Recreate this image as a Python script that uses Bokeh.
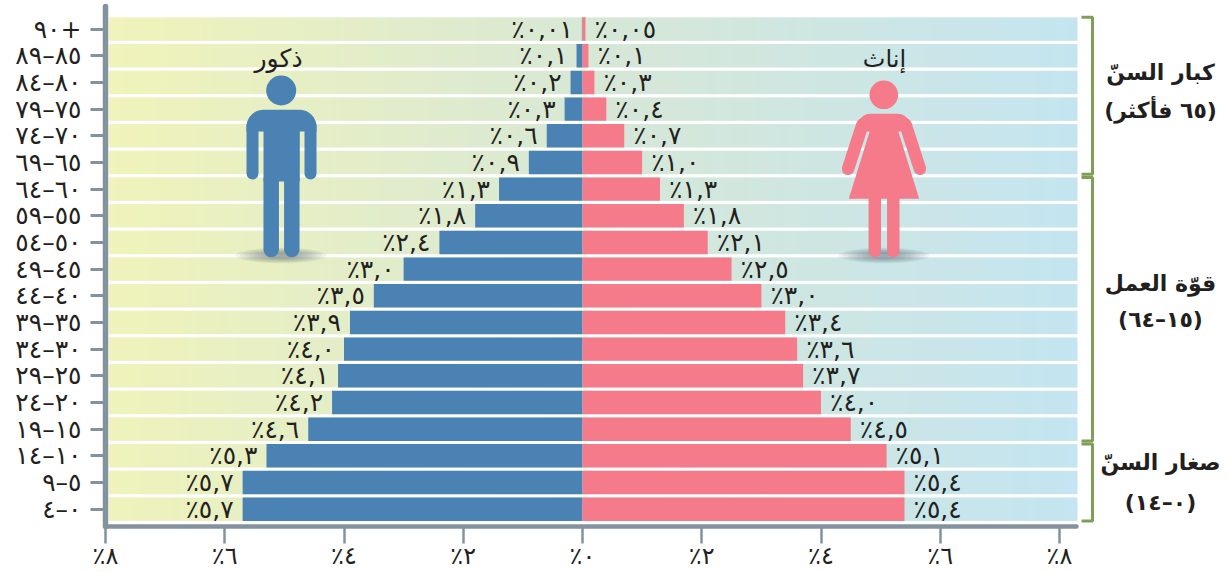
import numpy as np
from bokeh.plotting import figure
from bokeh.models import Range1d, FixedTicker, ColumnDataSource
from bokeh.core.properties import value
from bokeh.embed import file_html
from bokeh.resources import INLINE

age_labels = ["٩٠+", "٨٥–٨٩", "٨٠–٨٤", "٧٥–٧٩", "٧٠–٧٤", "٦٥–٦٩", "٦٠–٦٤", "٥٥–٥٩", "٥٠–٥٤", "٤٥–٤٩",
              "٤٠–٤٤", "٣٥–٣٩", "٣٠–٣٤", "٢٥–٢٩", "٢٠–٢٤", "١٥–١٩", "١٠–١٤", "٥–٩", "٠–٤"]
male = [0.01, 0.1, 0.2, 0.3, 0.6, 0.9, 1.4, 1.8, 2.4, 3.0, 3.5, 3.9, 4.0, 4.1, 4.2, 4.6, 5.3, 5.7, 5.7]
female = [0.05, 0.1, 0.2, 0.4, 0.7, 1.0, 1.3, 1.7, 2.1, 2.5, 3.0, 3.4, 3.6, 3.7, 4.0, 4.5, 5.1, 5.4, 5.4]
male_labels = ["٪٠,٠١", "٪٠,١", "٪٠,٢", "٪٠,٣", "٪٠,٦", "٪٠,٩", "٪١,٣", "٪١,٨", "٪٢,٤", "٪٣,٠",
               "٪٣,٥", "٪٣,٩", "٪٤,٠", "٪٤,١", "٪٤,٢", "٪٤,٦", "٪٥,٣", "٪٥,٧", "٪٥,٧"]
female_labels = ["٪٠,٠٥", "٪٠,١", "٪٠,٣", "٪٠,٤", "٪٠,٧", "٪١,٠", "٪١,٣", "٪١,٨", "٪٢,١", "٪٢,٥",
                 "٪٣,٠", "٪٣,٤", "٪٣,٦", "٪٣,٧", "٪٤,٠", "٪٤,٥", "٪٥,١", "٪٥,٤", "٪٥,٤"]
x_ticks = [-8, -6, -4, -2, 0, 2, 4, 6, 8]
x_tick_labels = ["٪٨", "٪٦", "٪٤", "٪٢", "٪٠", "٪٢", "٪٤", "٪٦", "٪٨"]
groups = [("كبار السنّ", "(٦٥ فأكثر)", 0, 5), ("قوّة العمل", "(١٥–٦٤)", 6, 15), ("صغار السنّ", "(٠–١٤)", 16, 18)]
group_text_y = [(72, 110), (283, 319), (462, 502)]
men_label, women_label = "ذكور", "إناث"

W, H = 1231, 572
L, T, B = 105, 6, 526
PX0, PXU = 582.0, (582.0 - L) / 8   # page pixel of value 0, pixels per percent
PY0, PYU = 28.6, 26.67              # page pixel of first row, pixels per row
n = len(age_labels)
ypos = [n - 1 - i for i in range(n)]
X = lambda px: (np.asarray(px, float) - PX0) / PXU
Y = lambda py: n - 1 - (np.asarray(py, float) - PY0) / PYU
FONT = "DejaVu Sans"
INK = "#231f20"
AXIS = "#84929d"
BLUE, PINK, GREEN = "#4a82b4", "#f57b8b", "#7f9f57"

p = figure(width=W, height=H, output_backend="svg", toolbar_location=None,
           x_range=Range1d(-8, float(X(W))), y_range=Range1d(float(Y(B)), float(Y(T))),
           min_border_left=L, min_border_right=0, min_border_top=T, min_border_bottom=H - B,
           background_fill_color=None, border_fill_color=None, outline_line_color=None)
p.margin = (0, 0, 0, 0)
p.grid.visible = False

# axes
ax = p.xaxis[0]
ax.ticker = FixedTicker(ticks=x_ticks)
ax.major_label_overrides = dict(zip(x_ticks, x_tick_labels))
ax.bounds = (-8, float(X(1076)))
ax.axis_line_color = AXIS; ax.axis_line_width = 4.5; ax.axis_line_cap = "round"
ax.major_tick_line_color = AXIS; ax.major_tick_line_width = 2.5
ax.major_tick_in = 0; ax.major_tick_out = 17; ax.minor_tick_line_color = None
ax.major_label_text_font = FONT; ax.major_label_text_font_size = "24px"
ax.major_label_text_color = INK; ax.major_label_standoff = -2
ay = p.yaxis[0]
ay.ticker = FixedTicker(ticks=ypos)
ay.major_label_overrides = dict(zip(ypos, age_labels))
ay.axis_line_color = AXIS; ay.axis_line_width = 5.5; ay.axis_line_cap = "round"
ay.major_tick_line_color = AXIS; ay.major_tick_line_width = 3
ay.major_tick_in = 0; ay.major_tick_out = 15; ay.minor_tick_line_color = None
ay.major_label_text_font = FONT; ay.major_label_text_font_size = "25px"
ay.major_label_text_color = INK; ay.major_label_standoff = 9

# gradient rows
nx, ny = 256, 8
u = np.linspace(0, 1, nx)[None, :]
c0 = np.array([240, 243, 186.0]); c1 = np.array([215, 232, 215.0]); c2 = np.array([196, 229, 241.0])
rows = []
for i in range(n):
    t = np.clip(u + 0.03 * (i / n - 0.5), 0, 1)
    rgb = np.where((t < 0.5)[..., None], c0 + (c1 - c0) * (t / 0.5)[..., None], c1 + (c2 - c1) * ((t - 0.5) / 0.5)[..., None])
    rgb = np.repeat(rgb, ny, axis=0)
    img = np.zeros((ny, nx), dtype=np.uint32)
    view = img.view(dtype=np.uint8).reshape((ny, nx, 4))
    view[..., :3] = rgb.astype(np.uint8); view[..., 3] = 255
    rows.append(img)
BH = 0.88
x0 = float(X(108.3))
p.image_rgba(image=rows, x=[x0] * n, y=[y - BH / 2 for y in ypos], dw=[float(X(1077)) - x0] * n, dh=[BH] * n)

# bars
src = ColumnDataSource(dict(y=ypos, m=[-v for v in male], f=female, ml=male_labels, fl=female_labels))
p.hbar(y="y", left="m", right=0, height=BH, source=src, fill_color=BLUE, line_color=None)
p.hbar(y="y", left=0, right="f", height=BH, source=src, fill_color=PINK, line_color=None)
lab = dict(y="y", source=src, text_font=value(FONT), text_font_size="25px", text_color=INK, text_baseline="middle")
p.text(x="m", text="ml", text_align="right", x_offset=-9, **lab)
p.text(x="f", text="fl", text_align="left", x_offset=9, **lab)

# brackets
for (top, sub, a, b), (ty, sy) in zip(groups, group_text_y):
    ya, yb = n - 1 - a + BH / 2, n - 1 - b - BH / 2
    p.line(x=X([1081, 1092, 1092, 1081]), y=[ya, ya, yb, yb], line_color=GREEN, line_width=3)
    for txt, py in ((top, ty), (sub, sy)):
        p.text(x=[float(X(1160))], y=[float(Y(py))], text=[txt], text_font=value(FONT), text_font_size="22px",
               text_font_style="bold", text_color=INK, text_align="center", text_baseline="middle")

# figure shadows
for cx in (280.5, 883.5):
    for k in range(8):
        p.ellipse(x=[float(X(cx))], y=[float(Y(255))], width=91 * (1 - k * 0.1) / PXU, height=15.5 * (1 - k * 0.1) / PYU,
                  fill_color="#33454f", fill_alpha=0.07, line_color=None)

def rounded_top(xa, xb, ytop, ybot, r):
    t = np.linspace(0, np.pi / 2, 12)
    xs = np.r_[xa, xa + r - r * np.cos(t), xb - r + r * np.sin(t), xb]
    ys = np.r_[ybot, ytop + r - r * np.sin(t), ytop + r - r * np.cos(t), ybot]
    return X(xs), Y(ys)

# man
p.ellipse(x=[float(X(280.7))], y=[float(Y(90))], width=30 / PXU, height=30 / PYU, fill_color=BLUE, line_color=None)
xs, ys = rounded_top(246, 316, 109.3, 131, 17)
p.patch(xs, ys, fill_color=BLUE, line_color=None)
p.patch(X([263, 299.3, 299.3, 263]), Y([125, 125, 181, 181]), fill_color=BLUE, line_color=None)
for a, b, c, w in [(252, 125, 173, 12), (310, 125, 173, 12), (270.7, 180, 249, 15.5), (291.3, 180, 249, 15.5)]:
    p.line(X([a, a]), Y([b, c]), line_color=BLUE, line_width=w, line_cap="round")

# woman
p.ellipse(x=[float(X(883.3))], y=[float(Y(94.3))], width=28.6 / PXU, height=28.6 / PYU, fill_color=PINK, line_color=None)
xs, ys = rounded_top(857, 910, 113.3, 131, 13)
p.patch(xs, ys, fill_color=PINK, line_color=None)
p.patch(X([871, 896, 918.7, 848.3]), Y([125, 125, 198.3, 198.3]), fill_color=PINK, line_color=None)
p.line(X([862, 847.6]), Y([124, 168.3]), line_color=PINK, line_width=12.5, line_cap="round")
p.line(X([905, 919.4]), Y([124, 168.3]), line_color=PINK, line_width=12.5, line_cap="round")
for a in (874.3, 892.8):
    p.line(X([a, a]), Y([195, 250.5]), line_color=PINK, line_width=12.5, line_cap="round")

# figure captions
for cx, cy, t, fs in [(278, 58, men_label, "25px"), (884, 58, women_label, "24px")]:
    p.text(x=[float(X(cx))], y=[float(Y(cy))], text=[t], text_font=value(FONT), text_font_size=fs,
           text_color=INK, text_align="center", text_baseline="middle")

open("out.html", "w").write(file_html(p, INLINE))
